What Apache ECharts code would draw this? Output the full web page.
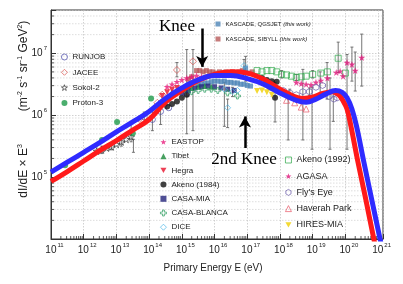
<!DOCTYPE html>
<html><head><meta charset="utf-8">
<script src="https://cdn.jsdelivr.net/npm/echarts@6/dist/echarts.min.js"></script>
<style>html,body{margin:0;padding:0;background:#fff}#c{width:403px;height:284px}</style>
</head><body><div id="c"></div>
<script>
// ---- data (log10 E [eV], log10 flux) ----
const fitBlue = [[11.0,5.08],[11.5,5.24],[12.0,5.40],[12.5,5.56],[13.0,5.73],[13.5,5.89],[14.0,6.06],[14.5,6.27],[15.0,6.44],[15.5,6.57],[16.0,6.64],[16.5,6.64],[17.0,6.59],[17.5,6.50],[18.0,6.36],[18.5,6.24],[18.8,6.21],[19.1,6.26],[19.4,6.34],[19.7,6.40],[19.9,6.37],[20.05,6.28],[20.2,6.10],[20.35,5.80],[20.55,5.28],[20.8,4.65],[21.06,4.0],[21.1,3.9]];
const fitRed = [[11.0,4.93],[11.5,5.09],[12.0,5.26],[12.5,5.43],[13.0,5.59],[13.5,5.76],[14.0,5.93],[14.5,6.21],[15.0,6.40],[15.5,6.56],[16.0,6.66],[16.5,6.70],[17.0,6.68],[17.5,6.58],[18.0,6.42],[18.4,6.31],[18.7,6.27],[19.0,6.29],[19.3,6.35],[19.6,6.38],[19.8,6.33],[19.92,6.24],[20.05,6.10],[20.17,5.82],[20.37,5.28],[20.62,4.65],[20.87,4.0],[20.92,3.88]];
const runjob = [[13.85,5.97],[14.1,5.93],[14.35,6.06],[14.6,6.12],[15.15,6.35]];
const jacee = [[13.7,5.94],[14.25,6.2],[14.4,6.33],[14.85,6.73],[15.34,6.87]];
const sokol2 = [[12.4,5.42],[12.55,5.44],[12.7,5.47],[12.85,5.49],[13.0,5.53],[13.15,5.57],[13.3,5.61],[13.45,5.65]];
const proton3 = [[11.43,5.19],[12.56,5.60],[13.02,5.89],[13.5,5.71],[14.06,6.27]];
const eastop = [[14.55,6.46],[14.7,6.5],[14.85,6.54],[15.0,6.57],[15.15,6.6],[15.3,6.62],[15.45,6.64],[15.6,6.62]];
const tibet = [[14.7,6.37],[14.9,6.40],[15.1,6.42],[15.3,6.44],[15.5,6.46],[15.7,6.47],[15.9,6.46]];
const hegra = [[14.4,6.31],[14.55,6.37],[14.7,6.41],[14.85,6.44]];
const akeno84 = [[14.55,6.14],[14.7,6.18],[14.85,6.22],[15.0,6.28],[15.15,6.33],[17.45,6.60],[17.6,6.57],[17.75,6.55],[17.9,6.54],[17.85,6.28]];
const casaMia = [[15.0,6.36],[15.2,6.40],[15.4,6.44],[15.6,6.46],[15.8,6.47],[16.0,6.46],[16.2,6.44],[16.4,6.42],[16.6,6.40]];
const casaBlanca = [[15.3,6.38],[15.5,6.40],[15.7,6.42],[15.9,6.42],[16.1,6.40],[16.4,6.36],[16.7,6.31]];
const dice = [[16.3,6.42],[16.4,6.12],[16.55,6.38],[16.7,6.40],[16.9,6.80]];
const akeno92 = [[17.3,6.72],[17.45,6.70],[17.6,6.72],[17.75,6.72],[17.9,6.70],[18.05,6.66],[18.2,6.65],[18.35,6.63],[18.5,6.61],[18.65,6.62],[18.8,6.63],[19.0,6.66],[19.25,6.68],[19.45,6.70],[19.78,6.92],[20.0,6.68]];
const agasa = [[18.5,6.53],[18.65,6.51],[18.8,6.50],[18.95,6.49],[19.1,6.53],[19.25,6.56],[19.45,6.6],[19.72,6.69],[19.84,6.71],[19.93,6.63],[20.05,6.85],[20.2,6.82],[20.3,6.72],[20.5,6.93]];
const flysEye = [[17.7,6.45],[17.9,6.43],[18.1,6.40],[18.3,6.36],[18.5,6.33],[18.7,6.38],[18.9,6.38],[19.1,6.45],[19.3,6.48],[19.5,6.30],[19.65,6.26],[19.75,6.28]];
const haverah = [[18.2,6.24],[18.45,6.20],[18.65,6.13],[18.8,6.10]];
const hiresMia = [[17.3,6.39],[17.45,6.40],[17.6,6.37],[17.75,6.33]];
const kascadeQ = [[15.5,6.48],[15.6,6.50],[15.7,6.52],[15.8,6.52],[15.9,6.54],[16.0,6.55],[16.1,6.55],[16.2,6.54],[16.3,6.55],[16.4,6.53],[16.5,6.53],[16.6,6.52],[16.7,6.52],[16.8,6.50],[16.9,6.50],[16.95,6.76],[17.0,6.48],[17.1,6.47]];
const kascadeS = [[15.2,6.58],[15.3,6.62],[15.45,6.72],[15.55,6.72],[15.65,6.70],[15.75,6.72],[15.85,6.70],[15.95,6.70],[16.05,6.68],[16.15,6.70],[16.25,6.68],[16.35,6.70],[16.45,6.68],[16.55,6.70],[16.65,6.68],[16.75,6.70],[16.85,6.72],[16.95,6.69],[17.05,6.68],[17.15,6.70]];
// error bars: [log10 E, log10 low, log10 high]
const errBars = [[13.85,5.85,6.05],[14.1,5.75,6.1],[14.35,5.85,6.2],[15.15,5.7,7.06],[15.34,5.75,7.06],[14.85,6.62,6.85],
  [12.55,5.38,5.5],[12.85,5.44,5.55],[13.15,5.5,5.64],[13.45,5.57,5.87],[13.52,5.4,5.61],
  [16.3,5.82,6.53],[16.4,5.8,6.26],[16.55,6.3,6.45],[16.9,6.72,6.9],[16.95,6.55,6.95],
  [17.85,5.89,6.53],[18.25,5.6,6.26],[18.7,5.6,6.74],[18.98,5.45,6.45],[19.23,6.3,6.7],[19.44,6.26,6.85],
  [19.53,5.45,6.6],[19.63,5.9,6.37],[19.78,6.69,7.18],[20.05,5.45,6.98],[20.2,6.55,7.1],[20.3,6.39,7.02],[20.5,6.47,7.31],
  [18.05,6.6,6.72],[18.5,6.56,6.66],[19.0,6.6,6.72],[18.3,6.3,6.42],[18.9,6.32,6.44]];
const xTickExp = [11,12,13,14,15,16,17,18,19,20,21];
const yTickExp = [5,6,7];

// ---- helpers ----
const P = v => Math.pow(10, v);
const pts = arr => arr.map(d => [P(d[0]), P(d[1])]);
const X_MIN = P(11), X_MAX = P(21.15), Y_MIN = P(4), Y_MAX = 5e7;
const FONT = "'Liberation Sans',Arial,sans-serif";
const OPEN = 'rgba(255,255,255,0)';
const STAR = 'path://M50,0 L61.8,35.1 L98.1,35.1 L68.7,56.8 L79.4,91.5 L50,70 L20.6,91.5 L31.3,56.8 L1.9,35.1 L38.2,35.1 Z';
const DOWN = 'path://M0,0 L100,0 L50,87 Z';
const HEX = 'path://M50,0 L93,25 L93,75 L50,100 L7,75 L7,25 Z';
const CROSS = 'path://M35,0 L65,0 L65,35 L100,35 L100,65 L65,65 L65,100 L35,100 L35,65 L0,65 L0,35 L35,35 Z';

// minor grid positions derived from the axes (2..9 x 10^n)
const yMinor = [], xMinor = [];
for (let n = 4; n <= 7; n++) for (let k = 2; k <= 9; k++) { const v = k * P(n); if (v < Y_MAX) yMinor.push(v); }
for (let n = 11; n <= 21; n++) for (let k = 2; k <= 9; k++) { const v = k * P(n); if (v < X_MAX) xMinor.push(v); }

function scat(name, data, symbol, color, open, size, z) {
  return {
    type: 'scatter', name, data: pts(data), symbol, symbolSize: size || 6, z: z || 3,
    itemStyle: open ? { color: OPEN, borderColor: color, borderWidth: 0.9 } : { color: color, borderWidth: 0 },
    emphasis: { disabled: true }, silent: true
  };
}
function isPow(v) { const e = Math.log10(v); return Math.abs(e - Math.round(e)) < 1e-6 ? Math.round(e) : null; }

const legendBase = { orient: 'vertical', padding: 0, selectedMode: false, itemWidth: 6, itemHeight: 6,
  itemStyle: { borderWidth: 0.9 } };

const option = {
  animation: false,
  backgroundColor: '#fff',
  grid: { left: 51, right: 20, top: 10, bottom: 45, show: true, borderColor: '#333', borderWidth: 1, outerBoundsMode: 'none' },
  xAxis: {
    type: 'log', logBase: 10, min: X_MIN, max: X_MAX, interval: 1, splitNumber: 10,
    axisLine: { lineStyle: { color: '#333', width: 1 } },
    axisTick: { inside: true, length: 5, lineStyle: { color: '#333' } },
    splitLine: { show: true, lineStyle: { color: '#bdbdbd', width: 0.7, type: [1.5, 1.5] } },
    axisLabel: {
      margin: 3, showMinLabel: true, showMaxLabel: true,
      formatter: v => { const e = isPow(v); return (e === null || xTickExp.indexOf(e) < 0) ? '' : '{sp|}{b|10}{s|' + e + '}'; },
      rich: { sp: { width: 7 }, b: { fontSize: 10, lineHeight: 16, fontFamily: FONT, color: '#222' }, s: { fontSize: 6, lineHeight: 6, padding: [0, 0, 10, 1], fontFamily: FONT, color: '#222' } }
    }
  },
  yAxis: {
    type: 'log', logBase: 10, min: Y_MIN, max: Y_MAX, interval: 1, splitNumber: 4,
    axisLine: { lineStyle: { color: '#333', width: 1 } },
    axisTick: { inside: true, length: 5, lineStyle: { color: '#333' } },
    splitLine: { show: true, lineStyle: { color: '#bdbdbd', width: 0.7, type: [1.5, 1.5] } },
    axisLabel: {
      margin: 4, showMinLabel: true, showMaxLabel: true,
      formatter: v => { const e = isPow(v); return (e === null || yTickExp.indexOf(e) < 0) ? '' : '{b|10}{s|' + e + '}'; },
      rich: { b: { fontSize: 10, lineHeight: 16, fontFamily: FONT, color: '#222' }, s: { fontSize: 6, lineHeight: 6, padding: [0, 0, 10, 1], fontFamily: FONT, color: '#222' } }
    }
  },
  legend: [
    Object.assign({}, legendBase, { left: 61, top: 52, itemGap: 5.3, data: ['RUNJOB', 'JACEE', 'Sokol-2', 'Proton-3'],
      textStyle: { fontSize: 8, lineHeight: 10, fontFamily: FONT, color: '#222' } }),
    Object.assign({}, legendBase, { left: 160, top: 137, itemGap: 4.2, data: ['EASTOP', 'Tibet', 'Hegra', 'Akeno (1984)', 'CASA-MIA', 'CASA-BLANCA', 'DICE'],
      textStyle: { fontSize: 8, lineHeight: 10, fontFamily: FONT, color: '#222' } }),
    Object.assign({}, legendBase, { left: 285, top: 154.5, itemGap: 5.2, data: ['Akeno (1992)', 'AGASA', "Fly's Eye", 'Haverah Park', 'HIRES-MIA'],
      textStyle: { fontSize: 9, lineHeight: 11, fontFamily: FONT, color: '#222' } }),
    Object.assign({}, legendBase, { left: 215.5, top: 20, itemGap: 7, itemWidth: 5, itemHeight: 5, data: ['KASCADE, QGSJET', 'KASCADE, SIBYLL'],
      formatter: n => n + ' {i|(this work)}',
      textStyle: { fontSize: 6, lineHeight: 8, fontFamily: FONT, color: '#222', rich: { i: { fontSize: 6, fontStyle: 'italic', fontFamily: FONT, color: '#222' } } } })
  ],
  graphic: [
    { type: 'text', x: 24, y: 66, rotation: Math.PI / 2, silent: true,
      style: { text: '(m{s|-2} s{s|-1} sr{s|-1} GeV{s|2})', font: '12px ' + FONT, fill: '#222', align: 'center', verticalAlign: 'middle',
        rich: { s: { fontSize: 7, lineHeight: 7, padding: [0, 0, 8, 0], fontFamily: FONT, fill: '#222' } } } },
    { type: 'text', x: 24, y: 171, rotation: Math.PI / 2, silent: true,
      style: { text: 'dI/dE × E{s|3}', font: '12px ' + FONT, fill: '#222', align: 'center', verticalAlign: 'middle',
        rich: { s: { fontSize: 7, lineHeight: 7, padding: [0, 0, 8, 0], fontFamily: FONT, fill: '#222' } } } },
    { type: 'text', x: 213, y: 268, scaleX: 0.86, silent: true,
      style: { text: 'Primary Energy E (eV)', font: '11.5px ' + FONT, fill: '#222', align: 'center', verticalAlign: 'middle' } },
    { type: 'text', x: 177, y: 27, silent: true, z: 20,
      style: { text: 'Knee', font: '17px "Liberation Serif", "Times New Roman", serif', fill: '#000', align: 'center', verticalAlign: 'middle' } },
    { type: 'text', x: 244, y: 160, silent: true, z: 20,
      style: { text: '2nd Knee', font: '17px "Liberation Serif", "Times New Roman", serif', fill: '#000', align: 'center', verticalAlign: 'middle' } }
  ],
  series: [
    { type: 'custom', name: 'minorY', silent: true, z: 0, data: yMinor.map(v => [X_MIN, v]), encode: { x: 0, y: 1 },
      renderItem: (params, api) => {
        const cs = params.coordSys; const y = api.coord([api.value(0), api.value(1)])[1];
        return { type: 'group', children: [
          { type: 'line', shape: { x1: cs.x, y1: y, x2: cs.x + cs.width, y2: y }, style: { stroke: '#c8c8c8', lineWidth: 0.6, lineDash: [1.5, 1.5] } },
          { type: 'line', shape: { x1: cs.x, y1: y, x2: cs.x + 3, y2: y }, style: { stroke: '#333', lineWidth: 0.8 } }
        ] };
      } },
    { type: 'custom', name: 'minorX', silent: true, z: 0, data: xMinor.map(v => [v, Y_MIN]), encode: { x: 0, y: 1 },
      renderItem: (params, api) => {
        const cs = params.coordSys; const x = api.coord([api.value(0), api.value(1)])[0];
        return { type: 'line', shape: { x1: x, y1: cs.y + cs.height, x2: x, y2: cs.y + cs.height - 3 }, style: { stroke: '#333', lineWidth: 0.8 } };
      } },
    { type: 'custom', name: 'errors', silent: true, z: 2, data: errBars.map(d => [P(d[0]), P(d[1]), P(d[2])]), encode: { x: 0, y: [1, 2] },
      renderItem: (params, api) => {
        const x = api.value(0); const a = api.coord([x, api.value(1)]); const b = api.coord([x, api.value(2)]);
        return { type: 'group', children: [
          { type: 'line', shape: { x1: a[0], y1: a[1], x2: b[0], y2: b[1] }, style: { stroke: '#666', lineWidth: 0.9 } },
          { type: 'line', shape: { x1: a[0] - 1.5, y1: a[1], x2: a[0] + 1.5, y2: a[1] }, style: { stroke: '#666', lineWidth: 0.9 } },
          { type: 'line', shape: { x1: b[0] - 1.5, y1: b[1], x2: b[0] + 1.5, y2: b[1] }, style: { stroke: '#666', lineWidth: 0.9 } }
        ] };
      } },
    scat('RUNJOB', runjob, 'circle', '#4a4aa8', true, 6),
    scat('JACEE', jacee, 'diamond', '#d9534f', true, 7),
    scat('Sokol-2', sokol2, STAR, '#333', true, 7),
    scat('Proton-3', proton3, 'circle', '#1e9a4a', false, 6),
    scat('KASCADE, SIBYLL', kascadeS, 'rect', '#b85a5a', false, 5),
    scat('KASCADE, QGSJET', kascadeQ, 'rect', '#4f86b8', false, 5),
    scat('EASTOP', eastop, STAR, '#e8197a', false, 7),
    scat('Tibet', tibet, 'triangle', '#1a8a3a', false, 6),
    scat('Hegra', hegra, DOWN, '#e8102a', false, 6),
    scat('Akeno (1984)', akeno84, 'circle', '#111', false, 6),
    scat('CASA-MIA', casaMia, 'rect', '#23237a', false, 5),
    scat('CASA-BLANCA', casaBlanca, CROSS, '#2e9e60', true, 6),
    scat('DICE', dice, 'diamond', '#4db8e8', true, 6),
    scat('Akeno (1992)', akeno92, 'rect', '#2ea84a', true, 6),
    scat('AGASA', agasa, STAR, '#e0157a', false, 7),
    scat("Fly's Eye", flysEye, HEX, '#6a5aa8', true, 6),
    scat('Haverah Park', haverah, 'triangle', '#e85a6a', true, 6),
    scat('HIRES-MIA', hiresMia, DOWN, '#f0d000', false, 6),
    { type: 'line', name: 'fitRed', data: pts(fitRed), smooth: 0.4, showSymbol: false, symbol: 'none', z: 5, silent: true,
      lineStyle: { color: '#ff1a1a', width: 5 } },
    { type: 'line', name: 'fitBlue', data: pts(fitBlue), smooth: 0.4, showSymbol: false, symbol: 'none', z: 6, silent: true,
      lineStyle: { color: '#2f2bff', width: 5 },
      markLine: { silent: true, symbol: ['none', 'arrow'], symbolSize: [9, 11], z: 20,
        lineStyle: { color: '#000', width: 2.5, type: 'solid' }, label: { show: false },
        data: [
          [{ coord: [P(15.62), P(7.40)] }, { coord: [P(15.62), P(6.78)] }],
          [{ coord: [P(16.93), P(5.47)] }, { coord: [P(16.93), P(5.98)] }]
        ] } }
  ]
};
const chart = echarts.init(document.getElementById('c'), null, { renderer: 'canvas', width: 403, height: 284 });
chart.setOption(option);
</script></body></html>
